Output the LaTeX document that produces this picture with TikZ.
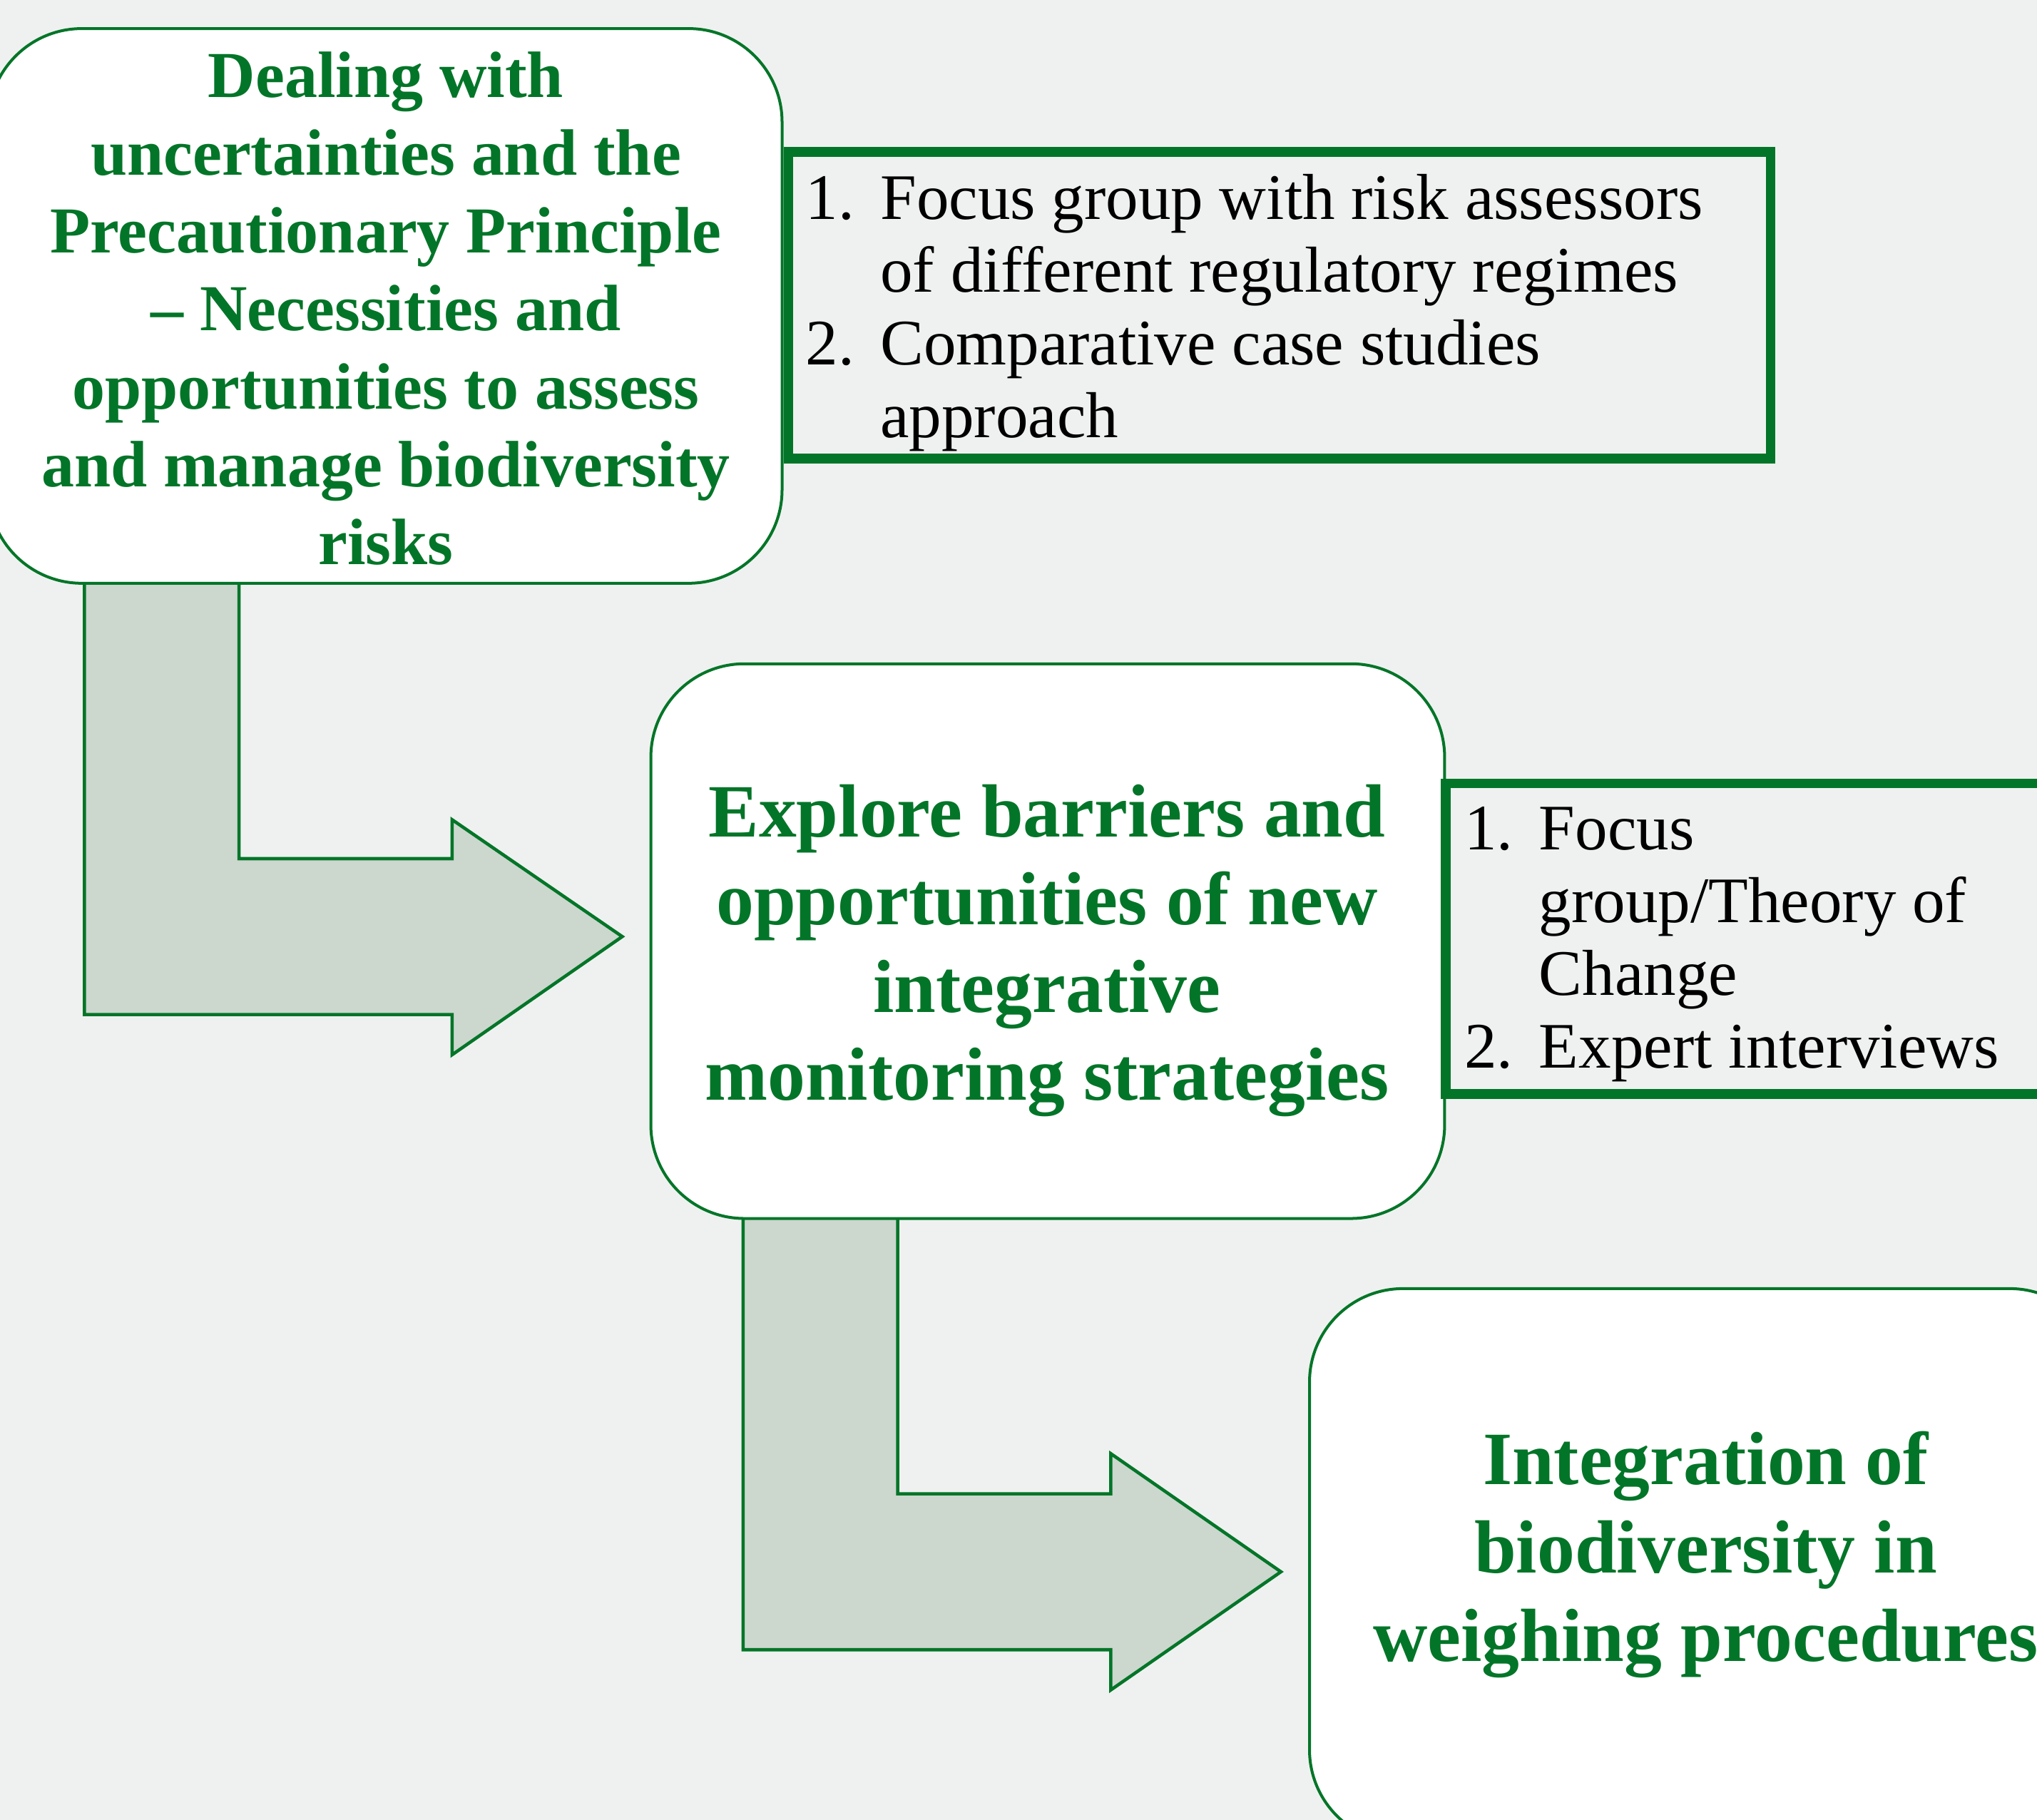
\documentclass[tikz,border=0pt]{standalone}
\usepackage{fontspec}
\setmainfont{Liberation Serif}
\definecolor{dkgreen}{RGB}{3,117,40}
\definecolor{arrowfill}{RGB}{204,215,206}
\definecolor{bgcol}{RGB}{239,241,240}
\begin{document}
\begin{tikzpicture}[x=1pt,y=-1pt,
  rbox/.style={draw=dkgreen, line width=2.2pt, fill=white, rounded corners=72pt, inner sep=0pt},
  lbox/.style={draw=dkgreen, line width=7.5pt, inner sep=0pt},
  bendarrow/.style={draw=dkgreen, line width=2.5pt, fill=arrowfill, line join=miter},
  head/.style={text=dkgreen, font=\bfseries, inner sep=0pt, anchor=north},
  listtext/.style={text=black, inner sep=0pt, anchor=north west}]
\useasboundingbox (0,0) rectangle (1568,1401);
\fill[bgcol] (0,0) rectangle (1568,1401);
\clip (0,0) rectangle (1568,1401);

% bent arrows (drawn first, their tops hidden under the boxes)
\draw[bendarrow] (65,440) -- (65,781) -- (348,781) -- (348,812) -- (479,721) -- (348,631) -- (348,661) -- (184,661) -- (184,440) -- cycle;
\draw[bendarrow] (572,929) -- (572,1270) -- (855,1270) -- (855,1301) -- (986,1210) -- (855,1119) -- (855,1150) -- (691,1150) -- (691,929) -- cycle;

% box 1
\node[rbox, minimum width=611pt, minimum height=427pt] (b1) at (296.5,235.5) {};
\node[head] (t1) at (297,32.5) {\fontsize{50.5}{60}\selectfont\begin{tabular}{@{}c@{}}Dealing with\\ uncertainties and the\\ Precautionary Principle\\ \textendash{} Necessities and\\ opportunities to assess\\ and manage biodiversity\\ risks\end{tabular}};

% list 1
\node[lbox, minimum width=756pt, minimum height=236pt] (lb1) at (985,235) {};
\node[listtext] (l1) at (620,129.5) {\fontsize{50}{56}\selectfont\begin{tabular}{@{}l@{\hspace{20pt}}l@{}}1. & Focus group with risk assessors\\ & of different regulatory regimes\\ 2. & Comparative case studies\\ & approach\end{tabular}};

% box 2
\node[rbox, minimum width=611pt, minimum height=427pt] (b2) at (806.5,724.5) {};
\node[head] (t2) at (806,597) {\fontsize{58}{67.5}\selectfont\begin{tabular}{@{}c@{}}Explore barriers and\\ opportunities of new\\ integrative\\ monitoring strategies\end{tabular}};

% list 2
\node[lbox, minimum width=756pt, minimum height=239pt] (lb2) at (1491,722.5) {};
\node[listtext] (l2) at (1127,615) {\fontsize{50}{56}\selectfont\begin{tabular}{@{}l@{\hspace{20pt}}l@{}}1. & Focus\\ & group/Theory of\\ & Change\\ 2. & Expert interviews\end{tabular}};

% box 3
\node[rbox, minimum width=611pt, minimum height=427pt] (b3) at (1313.5,1205.5) {};
\node[head] (t3) at (1313,1095) {\fontsize{58}{68}\selectfont\begin{tabular}{@{}c@{}}Integration of\\ biodiversity in\\ weighing procedures\end{tabular}};
\end{tikzpicture}
\end{document}
